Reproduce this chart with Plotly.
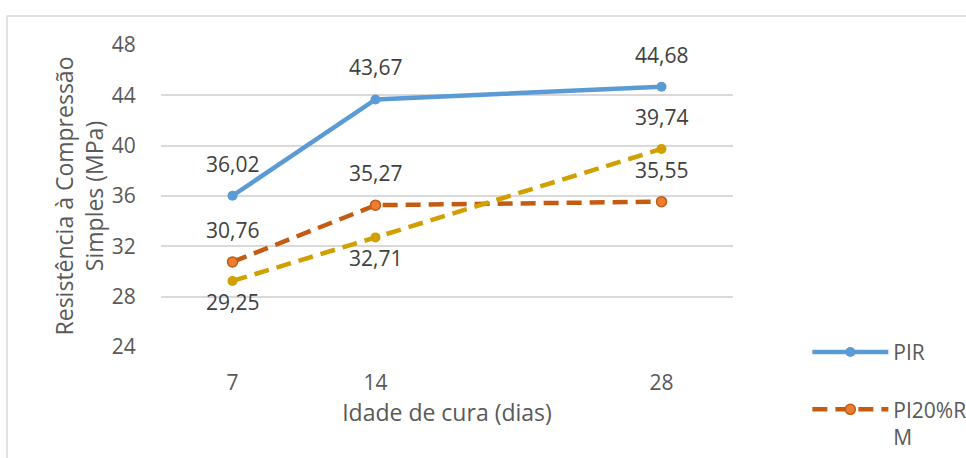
import plotly.graph_objects as go

# ---- data ----
idade = [7, 14, 28]
pir = [36.02, 43.67, 44.68]
pi20rm = [30.76, 35.27, 35.55]
serie3 = [29.25, 32.71, 39.74]

pir_labels = ["36,02", "43,67", "44,68"]
pi20rm_labels = ["30,76", "35,27", "35,55"]
serie3_labels = ["29,25", "32,71", "39,74"]
serie3_pos = ["below", "below", "above"]

y_ticks = [24, 28, 32, 36, 40, 44, 48]

FONT = "Open Sans"
SZ = 21
TSZ = 23
TXT = "#595959"
LBL = "#404040"
BLUE = "#5B9BD5"
ORANGE = "#C55A11"
ORANGE_FILL = "#ED7D31"
GOLD = "#D0A000"

fig = go.Figure()

fig.add_trace(go.Scatter(
    x=idade, y=pir, name="PIR", mode="lines+markers",
    line=dict(color=BLUE, width=4.5),
    marker=dict(size=10, color=BLUE),
    legendgroup="a",
))
fig.add_trace(go.Scatter(
    x=idade, y=pi20rm, name="PI20%R<br>M", mode="lines+markers",
    line=dict(color=ORANGE, width=4.5, dash="15px,8px"),
    marker=dict(size=10, color=ORANGE_FILL, line=dict(color=ORANGE, width=1.5)),
    legendgroup="b",
))
fig.add_trace(go.Scatter(
    x=idade, y=serie3, name="Série 3", mode="lines+markers",
    line=dict(color=GOLD, width=4.5, dash="15px,8px"),
    marker=dict(size=10, color=GOLD),
    showlegend=False,
))

def add_labels(xs, ys, labels, positions):
    for xv, yv, t, p in zip(xs, ys, labels, positions):
        fig.add_annotation(
            x=xv, y=yv, text=t, showarrow=False, xref="x", yref="y",
            yshift=32 if p == "above" else -21,
            font=dict(family=FONT, size=SZ, color=LBL),
        )

add_labels(idade, pir, pir_labels, ["above"] * 3)
add_labels(idade, pi20rm, pi20rm_labels, ["above"] * 3)
add_labels(idade, serie3, serie3_labels, serie3_pos)

# chart border (left and top edges visible)
fig.add_shape(
    type="path", xref="paper", yref="paper",
    path="M -0.2692,-0.5 L -0.2692,1.096 L 1.5,1.096",
    line=dict(color="#D9D9D9", width=1.5),
)

fig.update_layout(
    width=966, height=458,
    margin=dict(l=161, r=233, t=45, b=111, autoexpand=False),
    paper_bgcolor="white", plot_bgcolor="white",
    font=dict(family=FONT, size=SZ, color=TXT),
    showlegend=True,
    legend=dict(
        x=1.13, y=0.05, xanchor="left", yanchor="top",
        font=dict(family=FONT, size=SZ, color=TXT),
        itemwidth=76, valign="top",
        traceorder="grouped", tracegroupgap=27,
        bgcolor="rgba(0,0,0,0)",
    ),
    xaxis=dict(
        range=[3.5, 31.5], tickmode="array", tickvals=idade,
        ticktext=[str(v) for v in idade],
        showgrid=False, zeroline=False, showline=False,
        ticks="outside", ticklen=17, tickcolor="rgba(0,0,0,0)",
        title=dict(text="Idade de cura (dias)", standoff=9,
                   font=dict(family=FONT, size=TSZ, color=TXT)),
        automargin=False, fixedrange=True,
    ),
    yaxis=dict(
        range=[24, 48], tickmode="array", tickvals=y_ticks,
        showgrid=True, gridcolor="#D9D9D9", gridwidth=1.5,
        zeroline=False, showline=False,
        ticks="outside", ticklen=20, tickcolor="rgba(0,0,0,0)",
        title=dict(text="Resistência à Compressão<br>Simples (MPa)", standoff=1,
                   font=dict(family=FONT, size=TSZ, color=TXT)),
        automargin=False, fixedrange=True,
    ),
)

fig.write_html("out.html")
